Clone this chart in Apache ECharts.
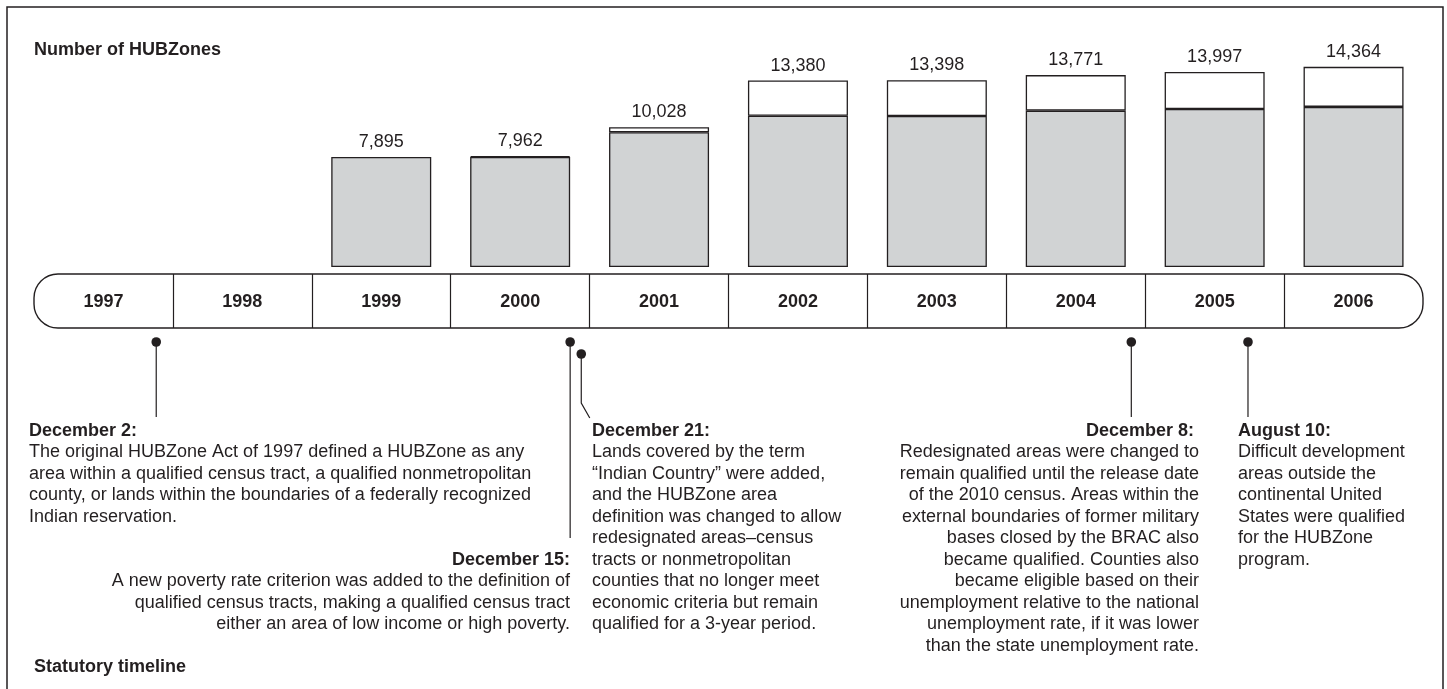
<!DOCTYPE html>
<html>
<head>
<meta charset="utf-8">
<title>Number of HUBZones - statutory timeline</title>
<script src="https://cdn.jsdelivr.net/npm/echarts@6/dist/echarts.min.js"></script>
<style>
  html, body { margin: 0; padding: 0; background: #fff; }
  #chart { width: 1447px; height: 689px; }
</style>
</head>
<body>
<div id="chart"></div>
<script>
// bar data
const years = ['1997', '1998', '1999', '2000', '2001', '2002', '2003', '2004', '2005', '2006'];
const totals = [null, null, 7895, 7962, 10028, 13380, 13398, 13771, 13997, 14364];
const baseCounts = [null, null, 7895, 7895, 9670, 10860, 10840, 11220, 11340, 11490];

// timeline events
const eventDates = ['December 2:', 'December 15:', 'December 21:', 'December 8:', 'August 10:'];
const eventPos = [1997.88, 2000.86, 2000.94, 2004.90, 2005.74];
const eventText = [
  ['The original HUBZone Act of 1997 defined a HUBZone as any',
   'area within a qualified census tract, a qualified nonmetropolitan',
   'county, or lands within the boundaries of a federally recognized',
   'Indian reservation.'],
  ['A new poverty rate criterion was added to the definition of',
   'qualified census tracts, making a qualified census tract',
   'either an area of low income or high poverty.'],
  ['Lands covered by the term',
   '\u201cIndian Country\u201d were added,',
   'and the HUBZone area',
   'definition was changed to allow',
   'redesignated areas\u2013census',
   'tracts or nonmetropolitan',
   'counties that no longer meet',
   'economic criteria but remain',
   'qualified for a 3-year period.'],
  ['Redesignated areas were changed to',
   'remain qualified until the release date',
   'of the 2010 census. Areas within the',
   'external boundaries of former military',
   'bases closed by the BRAC also',
   'became qualified. Counties also',
   'became eligible based on their',
   'unemployment relative to the national',
   'unemployment rate, if it was lower',
   'than the state unemployment rate.'],
  ['Difficult development',
   'areas outside the',
   'continental United',
   'States were qualified',
   'for the HUBZone',
   'program.']
];

const ink = '#231f20';
const fontFamily = '"Liberation Sans", Arial, Helvetica, sans-serif';
const lineH = 21.5;

// pixel layout of the callouts (stems + text blocks)
const eventLayout = [
  { dot: 342, stem: 417, textX: 29, textY: 431, align: 'left' },
  { dot: 342, stem: 538, textX: 570, textY: 560, align: 'right' },
  { dot: 354, stem: 403, bend: [8.5, 418], textX: 592, textY: 431, align: 'left' },
  { dot: 342, stem: 417, textX: 1199, textY: 431, align: 'right', headDx: -5 },
  { dot: 342, stem: 417, textX: 1238, textY: 431, align: 'left' }
];

const addedCounts = totals.map((t, i) => {
  if (t == null) return null;
  return t - baseCounts[i];
});

const textGraphics = [];
eventLayout.forEach((l, i) => {
  textGraphics.push({
    type: 'text',
    style: {
      x: l.textX + (l.headDx || 0), y: l.textY, text: eventDates[i],
      font: 'bold 18px ' + fontFamily, fill: ink,
      textAlign: l.align, align: l.align,
      textVerticalAlign: 'middle', verticalAlign: 'middle'
    }
  });
  textGraphics.push({
    type: 'text',
    style: {
      x: l.textX, y: l.textY + lineH / 2, text: eventText[i].join('\n'),
      font: '18px ' + fontFamily, fill: ink,
      textAlign: l.align, align: l.align,
      textVerticalAlign: 'top', verticalAlign: 'top',
      textLineHeight: lineH, lineHeight: lineH
    }
  });
});

const chart = echarts.init(document.getElementById('chart'));
chart.setOption({
  animation: false,
  backgroundColor: '#fff',
  title: [
    {
      text: 'Number of HUBZones', left: 34, top: 41, padding: 0,
      textStyle: { fontFamily: fontFamily, fontSize: 18, fontWeight: 'bold', color: ink, lineHeight: 18 }
    },
    {
      text: 'Statutory timeline', left: 34, top: 658, padding: 0,
      textStyle: { fontFamily: fontFamily, fontSize: 18, fontWeight: 'bold', color: ink, lineHeight: 18 }
    }
  ],
  grid: [
    { left: 34, right: 24, top: 58, height: 209 },   // bars
    { left: 34, right: 24, top: 274, height: 54 },   // timeline band
    { left: 34, right: 24, top: 274, height: 54 }    // event markers
  ],
  xAxis: [
    {
      type: 'category', gridIndex: 0, data: years,
      axisLine: { show: false }, axisTick: { show: false },
      axisLabel: { margin: 26, fontFamily: fontFamily, fontSize: 18, fontWeight: 'bold', color: ink }
    },
    {
      type: 'category', gridIndex: 1, data: years,
      axisLine: { show: false }, axisTick: { show: false }, axisLabel: { show: false },
      splitLine: { show: true, showMinLine: false, showMaxLine: false, lineStyle: { color: ink, width: 1.2 } }
    },
    { type: 'value', gridIndex: 2, min: 1997, max: 2007, show: false }
  ],
  yAxis: [
    { type: 'value', gridIndex: 0, min: 0, max: 15000, show: false },
    { type: 'value', gridIndex: 1, show: false },
    { type: 'value', gridIndex: 2, min: 0, max: 1, show: false }
  ],
  series: [
    {
      name: 'base', type: 'bar', stack: 'hz', xAxisIndex: 0, yAxisIndex: 0,
      barWidth: 100, data: baseCounts,
      itemStyle: { color: '#d1d3d4', borderColor: ink, borderWidth: 1.3 }
    },
    {
      name: 'added', type: 'bar', stack: 'hz', xAxisIndex: 0, yAxisIndex: 0,
      barWidth: 100,
      data: addedCounts.map(v => (v === 0 ? { value: 0, itemStyle: { borderWidth: 0 } } : v)),
      itemStyle: { color: '#ffffff', borderColor: ink, borderWidth: 1.3 },
      label: {
        show: true, position: 'top', distance: 6,
        fontFamily: fontFamily, fontSize: 18, color: ink,
        formatter: p => totals[p.dataIndex].toLocaleString('en-US')
      }
    },
    {
      name: 'events', type: 'custom', xAxisIndex: 2, yAxisIndex: 2, clip: false,
      data: eventPos.map((p, i) => [p, i]),
      renderItem: function (params, api) {
        const i = api.value(1);
        const l = eventLayout[i];
        const x = api.coord([api.value(0), 0])[0];
        const pts = [[x, l.dot], [x, l.stem]];
        if (l.bend) pts.push([x + l.bend[0], l.bend[1]]);
        return {
          type: 'group',
          children: [
            { type: 'polyline', shape: { points: pts }, style: { stroke: ink, lineWidth: 1.2, fill: null } },
            { type: 'circle', shape: { cx: x, cy: l.dot, r: 4.8 }, style: { fill: ink } }
          ]
        };
      }
    }
  ],
  graphic: [
    {
      type: 'rect', silent: true,
      shape: { x: 7, y: 7, width: 1436, height: 720 },
      style: { fill: null, stroke: ink, lineWidth: 1.5 }
    },
    {
      type: 'rect', silent: true,
      shape: { x: 34, y: 274, width: 1389, height: 54, r: 24 },
      style: { fill: null, stroke: ink, lineWidth: 1.4 }
    }
  ].concat(textGraphics)
});
window.addEventListener('resize', () => chart.resize());
</script>
</body>
</html>
